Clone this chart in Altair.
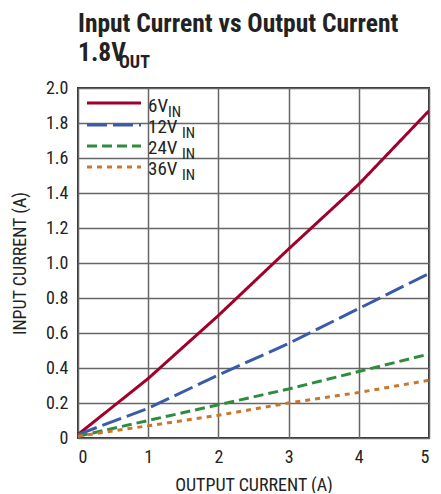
import altair as alt
import pandas as pd

# ---- data ----
output_current = [0, 1, 2, 3, 4, 5]
vin_6 = [0.02, 0.34, 0.70, 1.08, 1.45, 1.87]
vin_12 = [0.02, 0.17, 0.36, 0.54, 0.74, 0.94]
vin_24 = [0.01, 0.10, 0.19, 0.28, 0.38, 0.48]
vin_36 = [0.01, 0.07, 0.13, 0.20, 0.26, 0.33]
series_names = ["6V", "12V", "24V", "36V"]
series_sub = "IN"
title_line1 = "Input Current vs Output Current"
title_line2 = "1.8V"
title_sub = "OUT"
x_title = "OUTPUT CURRENT (A)"
y_title = "INPUT CURRENT (A)"

colors = ["#A0002C", "#3B5BAA", "#2E8C3F", "#C8782E"]
dashes = [[1, 0], [20, 6], [10, 5], [5, 5]]

TFONT = "Roboto Condensed"
FONT = "Roboto Condensed"

rows = []
for name, vals in zip(series_names, [vin_6, vin_12, vin_24, vin_36]):
    for x, y in zip(output_current, vals):
        rows.append({"series": name, "x": x, "y": y})
df = pd.DataFrame(rows)

W, H = 351, 350

base = alt.Chart(df)
lines = []
for name, c, d in zip(series_names, colors, dashes):
    lines.append(
        base.transform_filter(alt.datum.series == name)
        .mark_line(color=c, strokeWidth=3, strokeDash=d, clip=True)
        .encode(
            x=alt.X("x:Q", scale=alt.Scale(domain=[0, 5], nice=False),
                    axis=alt.Axis(values=[0, 1, 2, 3, 4, 5], title=x_title,
                                  titleX=W / 2, titleY=52, titleBaseline="alphabetic",
                                  titleAnchor=None)),
            y=alt.Y("y:Q", scale=alt.Scale(domain=[0, 2.0], nice=False),
                    axis=alt.Axis(values=[round(v * 0.2, 1) for v in range(11)],
                                  labelExpr="datum.value == 0 ? '0' : format(datum.value, '.1f')",
                                  title=y_title, titleAngle=270, titleX=-53, titleY=H / 2,
                                  titleBaseline="alphabetic", titleAnchor=None)),
        )
    )


def txt(t, x, y, size, weight="normal", font=FONT):
    return alt.Chart(alt.Data(values=[{}])).mark_text(
        text=t, fontSize=size, fontWeight=weight, font=font, align="left",
        baseline="alphabetic", color="#222"
    ).encode(x=alt.value(x), y=alt.value(y))


def rule(x1, x2, y, c, d):
    return alt.Chart(alt.Data(values=[{}])).mark_rule(
        color=c, strokeWidth=3, strokeDash=d
    ).encode(x=alt.value(x1), x2=alt.value(x2), y=alt.value(y))


annotations = [
    txt(title_line1, 0, -56, 25.5, "bold", TFONT),
    txt(title_line2, 0, -27, 25.5, "bold", TFONT),
    txt(title_sub, 41, -20, 18, "bold", TFONT),
]

leg_y = [15, 37, 58, 79]
leg_base = [24, 45, 66, 87]
sub_x = [90, 104, 104, 104]
for name, c, d, ly, lb, sx in zip(series_names, colors, dashes, leg_y, leg_base, sub_x):
    annotations.append(rule(9, 63, ly, c, d))
    annotations.append(txt(name, 70, lb, 19))
    annotations.append(txt(series_sub, sx, lb + 5, 15))

chart = alt.layer(*lines, *annotations).properties(
    width=W, height=H,
    autosize=alt.AutoSizeParams(type="none"),
    padding={"left": 70, "top": 80, "right": 4, "bottom": 55},
).configure_view(
    stroke="#333", strokeWidth=2
).configure_axis(
    grid=True, gridColor="#666666", gridWidth=1.5, domain=False, ticks=False,
    labelFont=FONT, labelFontSize=18, labelColor="#222",
    titleFont=FONT, titleFontSize=18, titleFontWeight="normal", titleColor="#222",
).configure_axisX(labelPadding=10).configure_axisY(labelPadding=10)

chart.save("out.html", embed_options={"renderer": "svg", "actions": False})
